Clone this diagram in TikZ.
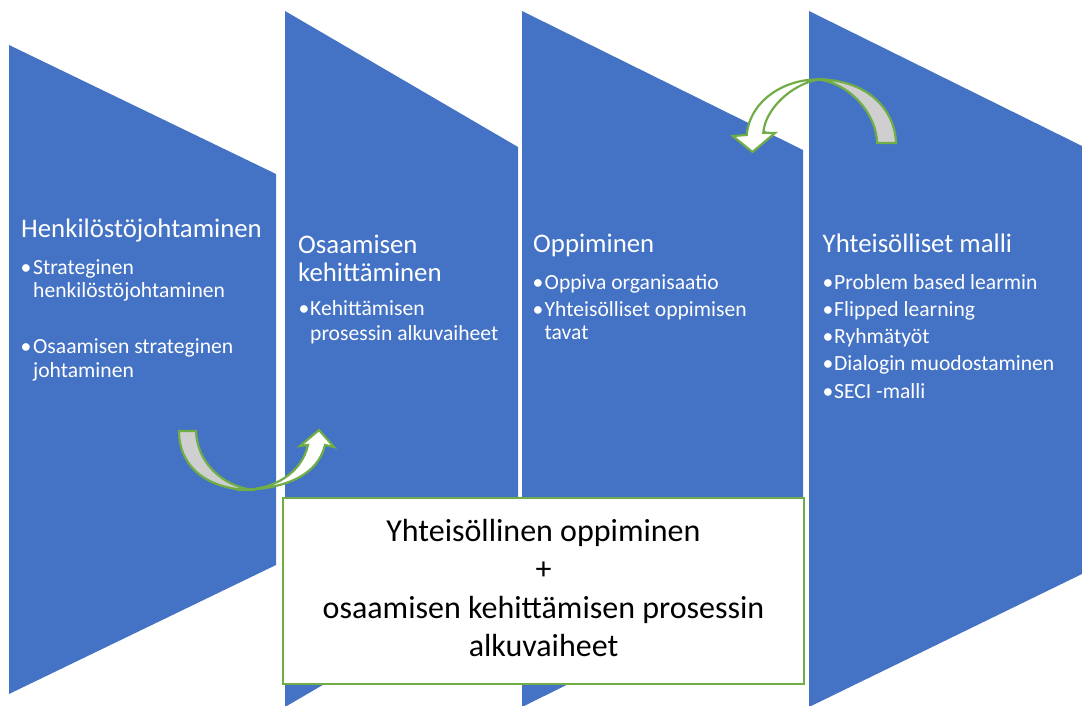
\documentclass[tikz,border=0pt]{standalone}
\usepackage{fontspec}
\setmainfont{Carlito}
\definecolor{panelblue}{HTML}{4472C4}
\definecolor{accentgreen}{HTML}{70AD47}
\definecolor{backgray}{HTML}{CFCFCF}

\begin{document}
\begin{tikzpicture}[x=1pt,y=-1pt,
  panel/.style={fill=panelblue, draw=none},
  ttl/.style={anchor=base west, inner sep=0pt, text=white, font=\fontsize{26.8}{30}\selectfont},
  itm/.style={anchor=base west, inner sep=0pt, text=white, font=\fontsize{21.6}{24}\selectfont},
  boxline/.style={anchor=base, inner sep=0pt, text=black, font=\fontsize{32}{38}\selectfont},
  bandfront/.style={fill=white, draw=accentgreen, line width=2.2pt, line join=miter},
  bandback/.style={fill=backgray, draw=accentgreen, line width=2.2pt, line join=miter},
  summary/.style={fill=white, draw=accentgreen, line width=2.5pt}
]
\useasboundingbox (0,0) rectangle (1082,706);

% four slanted panels
\fill[panel] (9,45) -- (276,174) -- (276,565) -- (9,694) -- cycle;
\fill[panel] (285,11) -- (518,147) -- (518,571) -- (285,707) -- cycle;
\fill[panel] (522,11) -- (803,150) -- (803,568) -- (522,707) -- cycle;
\fill[panel] (809,11) -- (1082,146) -- (1082,574) -- (809,707) -- cycle;

% panel 1 text
\node[ttl] (t1) at (21,237) {Henkilöstöjohtaminen};
\node[itm] (d1a) at (20.5,274) {•};
\node[itm] (i1a) at (33,274) {Strateginen};
\node[itm] (i1b) at (33,297) {henkilöstöjohtaminen};
\node[itm] (d1b) at (20.5,353.5) {•};
\node[itm] (i1c) at (33,353.5) {Osaamisen strateginen};
\node[itm] (i1d) at (33,377) {johtaminen};

% panel 2 text
\node[ttl] (t2a) at (298,253.3) {Osaamisen};
\node[ttl] (t2b) at (298,281.7) {kehittäminen};
\node[itm] (d2a) at (298.5,315.7) {•};
\node[itm] (i2a) at (310,315.7) {Kehittämisen};
\node[itm] (i2b) at (310,340) {prosessin alkuvaiheet};

% panel 3 text
\node[ttl] (t3) at (533,252.3) {Oppiminen};
\node[itm] (d3a) at (532.5,289) {•};
\node[itm] (i3a) at (544.5,289) {Oppiva organisaatio};
\node[itm] (d3b) at (532.5,316.7) {•};
\node[itm] (i3b) at (544.5,316.7) {Yhteisölliset oppimisen};
\node[itm] (i3c) at (544.5,339.3) {tavat};

% panel 4 text
\node[ttl] (t4) at (822.5,252.3) {Yhteisölliset malli};
\node[itm] (d4a) at (822.5,289) {•};
\node[itm] (i4a) at (834,289) {Problem based learmin};
\node[itm] (d4b) at (822.5,316.3) {•};
\node[itm] (i4b) at (834,316.3) {Flipped learning};
\node[itm] (d4c) at (822.5,343.6) {•};
\node[itm] (i4c) at (834,343.6) {Ryhmätyöt};
\node[itm] (d4d) at (822.5,370.9) {•};
\node[itm] (i4d) at (834,370.9) {Dialogin muodostaminen};
\node[itm] (d4e) at (822.5,398.2) {•};
\node[itm] (i4e) at (834,398.2) {SECI -malli};

% curved up arrow between panels 1 and 2
\draw[bandfront] (237,490) .. controls (275,491) and (302,472) .. (308,445)
  -- (300,446) -- (319,430) -- (334,447) -- (325,445)
  .. controls (318,475) and (285,490) .. (237,490) -- cycle;
\draw[bandback] (179,431) -- (196,431) .. controls (197,462) and (222,487) .. (255,490)
  .. controls (212,491) and (179,470) .. (179,431) -- cycle;

% curved arrow from panel 4 back to panel 3
\draw[bandfront] (818,79.5) .. controls (785,79) and (750,100) .. (746.7,135)
  -- (732.7,136) -- (752.5,152) -- (775,133) -- (763.3,132.7)
  .. controls (765,110) and (790,85) .. (818,79.5) -- cycle;
\draw[bandback] (877,143) -- (896,143) .. controls (895,110) and (868,79) .. (816,79.3)
  .. controls (850,82) and (877,115) .. (877,143) -- cycle;

% summary box
\draw[summary] (283,498) rectangle (804,684);
\node[boxline] (s1) at (543.5,541) {Yhteisöllinen oppiminen};
\node[boxline] (s2) at (543.5,579.5) {+};
\node[boxline] (s3) at (543.5,618) {osaamisen kehittämisen prosessin};
\node[boxline] (s4) at (543.5,656.5) {alkuvaiheet};
\end{tikzpicture}
\end{document}
